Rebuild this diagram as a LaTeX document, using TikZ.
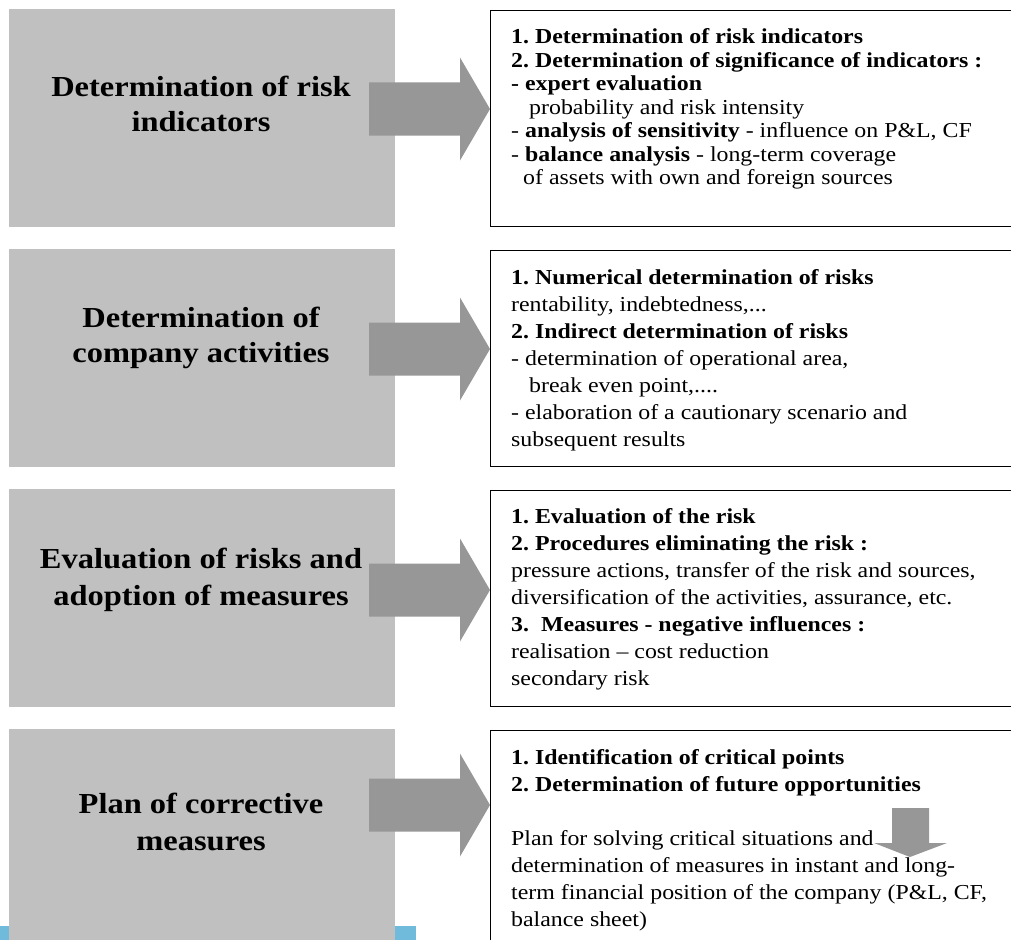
\documentclass[tikz,border=0pt]{standalone}
\usepackage{fontspec}
\setmainfont{Liberation Serif}[FakeStretch=1.12]
\definecolor{boxgray}{RGB}{192,192,192}
\definecolor{arrowgray}{RGB}{151,151,151}
\definecolor{stripblue}{RGB}{112,186,220}
\newcommand\stacklines[2]{\vtop{\baselineskip=#1\lineskiplimit=-100pt\lineskip=0pt\relax #2}}
\newcommand\ctrline[1]{\hbox to 0pt{\hss #1\hss}}
\tikzset{
  stagebox/.style={fill=boxgray, draw=none, minimum width=386pt, minimum height=218pt, inner sep=0pt, outer sep=0pt, anchor=north west},
  infobox/.style={draw=black, line width=1.4pt, fill=none, minimum width=560pt, inner sep=0pt, anchor=north west},
  bigarrow/.style={fill=arrowgray, draw=none},
  stagetitle/.style={anchor=base, inner sep=0pt, font=\fontsize{29}{35}\selectfont\bfseries},
  infotext/.style={anchor=base west, inner sep=0pt, font=\fontsize{21.3}{23.5}\selectfont},
}
\newcommand\blockarrow[1]{%
  \fill[bigarrow] (369,#1-26.5) -- (460,#1-26.5) -- (460,#1-51.5) -- (490,#1)
    -- (460,#1+51.5) -- (460,#1+26.5) -- (369,#1+26.5) -- cycle;}
\frenchspacing
\begin{document}
\frenchspacing
\begin{tikzpicture}[x=1pt,y=-1pt]
\useasboundingbox (0,0) rectangle (1011,939);
\clip (0,0) rectangle (1011,939);

% blue strip at the bottom
\fill[stripblue] (0,926) rectangle (416,945);

% stage boxes
\node[stagebox] (s1) at (9,9) {};
\node[stagebox] (s2) at (9,249) {};
\node[stagebox] (s3) at (9,489) {};
\node[stagebox] (s4) at (9,729) {};

% stage titles
\node[stagetitle] (t1) at (201,97) {\stacklines{35pt}{\ctrline{Determination of risk}\ctrline{indicators}}};
\node[stagetitle] (t2) at (201,327) {\stacklines{35pt}{\ctrline{Determination of}\ctrline{company activities}}};
\node[stagetitle] (t3) at (201,568) {\stacklines{37pt}{\ctrline{Evaluation of risks and}\ctrline{adoption of measures}}};
\node[stagetitle] (t4) at (201,813) {\stacklines{37pt}{\ctrline{Plan of corrective}\ctrline{measures}}};

% block arrows
\blockarrow{109}
\blockarrow{349}
\blockarrow{590}
\blockarrow{805}

% info boxes
\node[infobox, minimum height=216pt] (i1) at (489.5,10) {};
\node[infobox, minimum height=216pt] (i2) at (489.5,250) {};
\node[infobox, minimum height=216pt] (i3) at (489.5,490) {};
\node[infobox, minimum height=240pt] (i4) at (489.5,730) {};

% small down arrow in last box
\fill[bigarrow] (892,808) -- (929,808) -- (929,843) -- (947,843) -- (910,857)
  -- (874,843) -- (892,843) -- cycle;

% info texts
\node[infotext] (x1) at (511,44) {\stacklines{23.5pt}{%
  \hbox{\textbf{1. Determination of risk indicators}}%
  \hbox{\textbf{2. Determination of significance of indicators :}}%
  \hbox{\textbf{- expert evaluation}}%
  \hbox{\hspace*{18pt}probability and risk intensity}%
  \hbox{- \textbf{analysis of sensitivity} - influence on P\&L, CF}%
  \hbox{- \textbf{balance analysis} - long-term coverage}%
  \hbox{\hspace*{12pt}of assets with own and foreign sources}}};

\node[infotext] (x2) at (511,284) {\stacklines{27pt}{%
  \hbox{\textbf{1. Numerical determination of risks}}%
  \hbox{rentability, indebtedness,...}%
  \hbox{\textbf{2. Indirect determination of risks}}%
  \hbox{- determination of operational area,}%
  \hbox{\hspace*{18pt}break even point,....}%
  \hbox{- elaboration of a cautionary scenario and}%
  \hbox{subsequent results}}};

\node[infotext] (x3) at (511,523) {\stacklines{27pt}{%
  \hbox{\textbf{1. Evaluation of the risk}}%
  \hbox{\textbf{2. Procedures eliminating the risk :}}%
  \hbox{pressure actions, transfer of the risk and sources,}%
  \hbox{diversification of the activities, assurance, etc.}%
  \hbox{\textbf{3.\ \ Measures - negative influences :}}%
  \hbox{realisation -- cost reduction}%
  \hbox{secondary risk}}};

\node[infotext] (x4) at (511,764) {\stacklines{27pt}{%
  \hbox{\textbf{1. Identification of critical points}}%
  \hbox{\textbf{2. Determination of future opportunities}}%
  \hbox{}%
  \hbox{Plan for solving critical situations and}%
  \hbox{determination of measures in instant and long-}%
  \hbox{term financial position of the company (P\&L, CF,}%
  \hbox{balance sheet)}}};
\end{tikzpicture}
\end{document}
